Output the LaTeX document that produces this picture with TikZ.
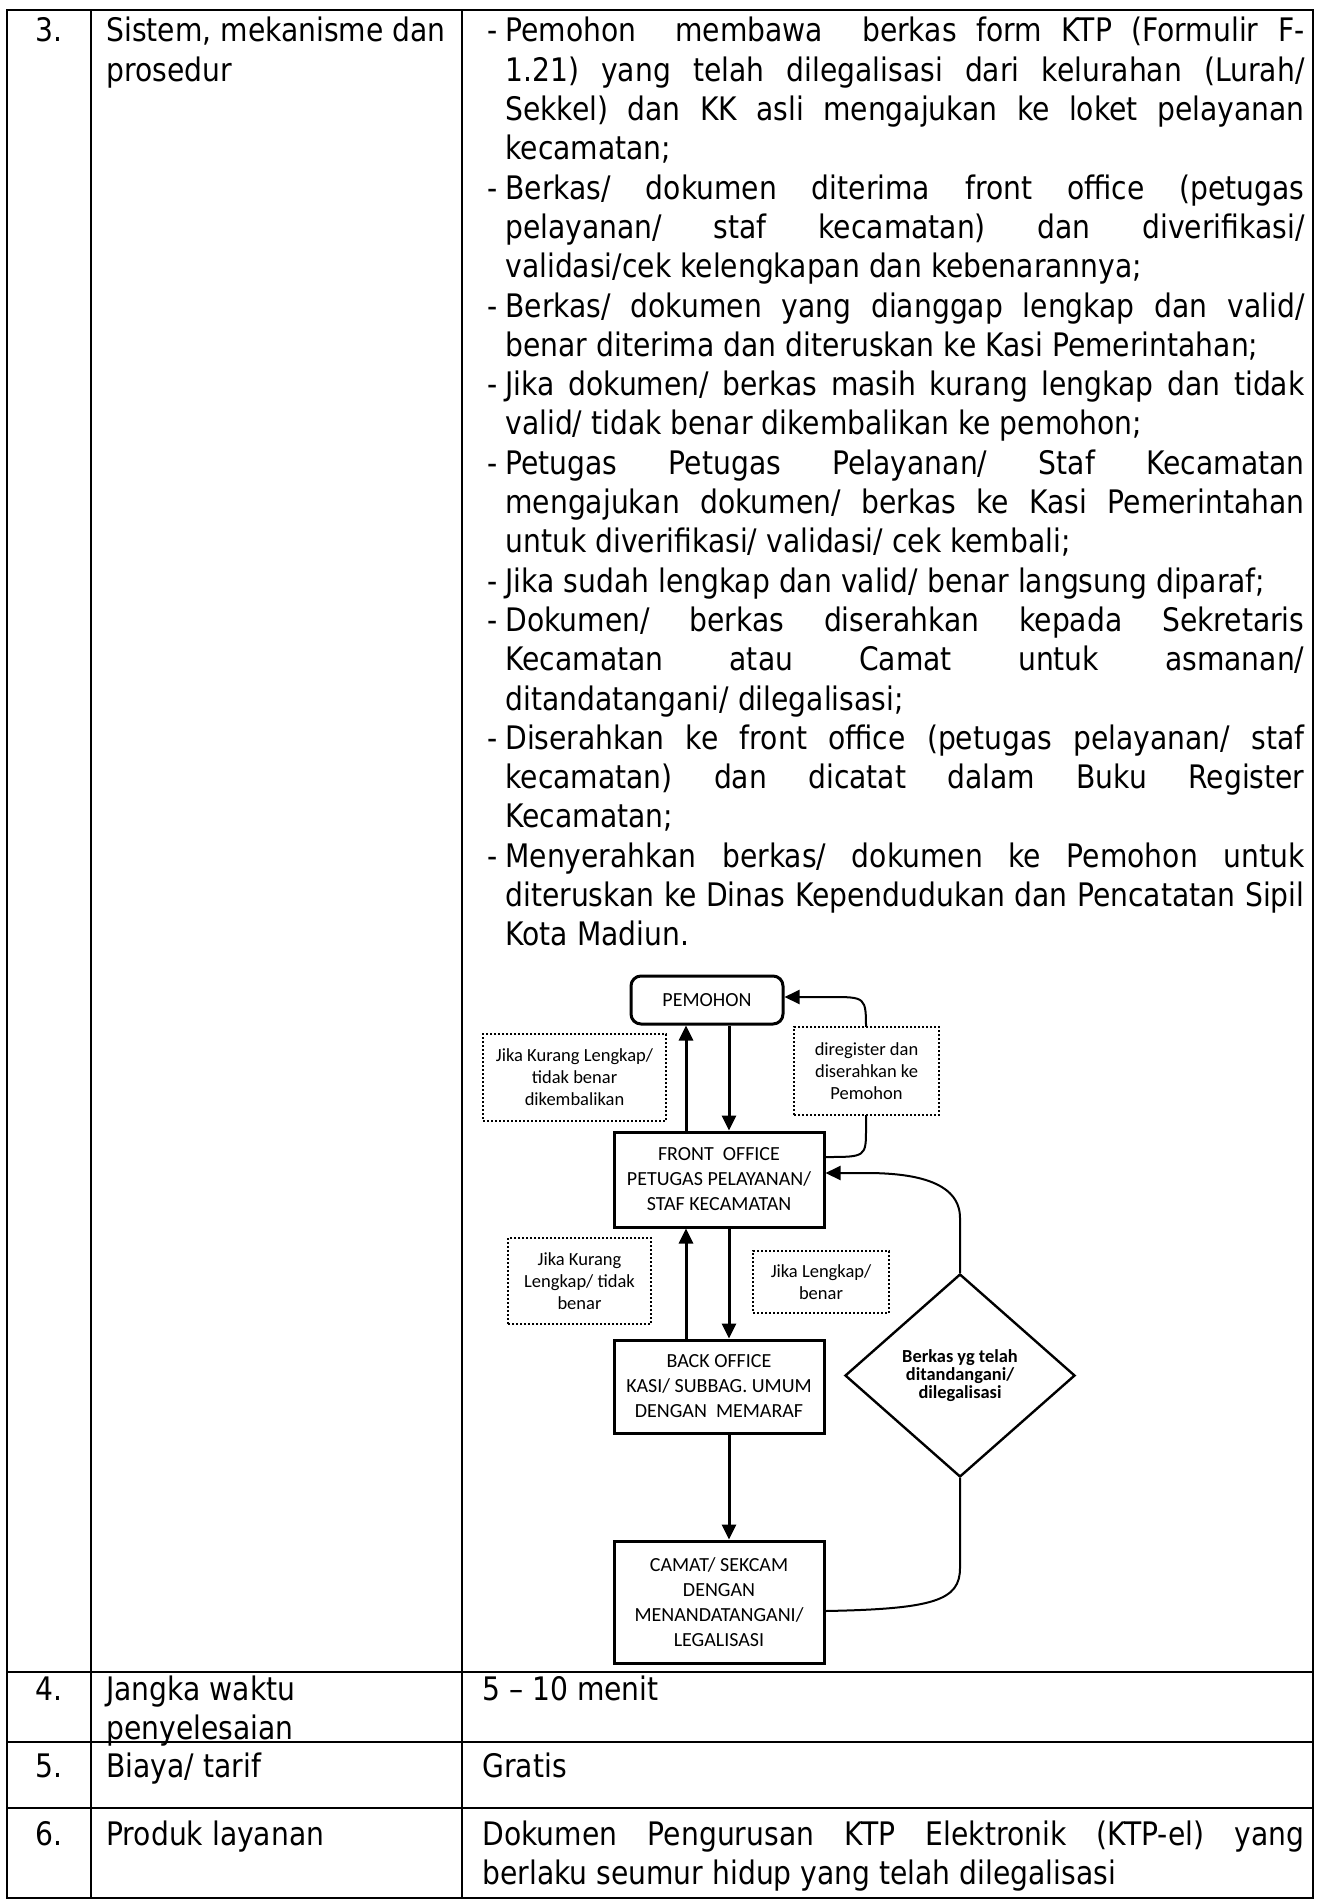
\documentclass[tikz,border=0pt]{standalone}
\usepackage{fontspec}
\setmainfont{DejaVu Sans}[FakeStretch=0.87]
\newfontfamily\chartfont{Carlito}
\usepackage{tikz}
\usetikzlibrary{arrows.meta,positioning,shapes.geometric,calc}

% one justified line of the cell text, and the hanging dash of an item
\newcommand{\jline}[1]{\makebox[\linewidth][s]{#1}}
\newcommand{\itemdash}{\leavevmode\llap{-\hspace{4pt}}}

\tikzset{
  grid/.style    ={line width=1pt},
  cell/.style    ={anchor=base west, inner sep=0pt,
                   font=\fontsize{16.2}{19.65}\selectfont},
  box/.style     ={rectangle, draw, line width=1.5pt, align=center, inner sep=2pt,
                   minimum width=105pt, font=\chartfont\fontsize{10}{12.5}\selectfont},
  startbox/.style={box, rounded corners=5pt, minimum width=76pt, minimum height=24pt},
  note/.style    ={rectangle, draw, line width=1pt, dash pattern=on 1pt off 1pt,
                   fill=white, align=center, inner sep=1pt,
                   font=\chartfont\fontsize{9.25}{11}\selectfont},
  check/.style   ={diamond, draw, line width=1.2pt, align=center, inner sep=0pt,
                   minimum width=115pt, minimum height=101.5pt,
                   font=\chartfont\bfseries\fontsize{9.2}{7.6}\selectfont},
  flow/.style    ={-{Triangle[length=7.5pt,width=7pt]}, line width=1.5pt},
  link/.style    ={line width=1pt},
}

\begin{document}
\begin{tikzpicture}[x=0.5pt, y=-0.5pt]
    \path[use as bounding box, fill=white] (0,0) rectangle (1320,1904);

    % table rules
    \def\colA{91}  \def\colB{462}
    \draw[grid] (7,10) rectangle (1313,1898);
    \foreach \x in {\colA,\colB} \draw[grid] (\x,10) -- (\x,1898);
    \foreach \y in {1672,1742,1808} \draw[grid] (7,\y) -- (1313,\y);

    % row 3
    \node[cell] (no3)  at (35,42)  {3.};
    \node[cell] (key3) at (106,42) {\parbox[t]{175pt}{Sistem, mekanisme dan\\prosedur}};
    \node[cell] (steps) at (505,42) {\parbox[t]{399.5pt}{%
      \jline{\itemdash Pemohon\ \ membawa\ \ berkas form KTP (Formulir F-}\\
      \jline{1.21) yang telah dilegalisasi dari kelurahan (Lurah/}\\
      \jline{Sekkel) dan KK asli mengajukan ke loket pelayanan}\\
      kecamatan;\\
      \jline{\itemdash Berkas/ dokumen diterima front office (petugas}\\
      \jline{pelayanan/ staf kecamatan) dan diverifikasi/}\\
      validasi/cek kelengkapan dan kebenarannya;\\
      \jline{\itemdash Berkas/ dokumen yang dianggap lengkap dan valid/}\\
      benar diterima dan diteruskan ke Kasi Pemerintahan;\\
      \jline{\itemdash Jika dokumen/ berkas masih kurang lengkap dan tidak}\\
      valid/ tidak benar dikembalikan ke pemohon;\\
      \jline{\itemdash Petugas Petugas Pelayanan/ Staf Kecamatan}\\
      \jline{mengajukan dokumen/ berkas ke Kasi Pemerintahan}\\
      untuk diverifikasi/ validasi/ cek kembali;\\
      \itemdash Jika sudah lengkap dan valid/ benar langsung diparaf;\\
      \jline{\itemdash Dokumen/ berkas diserahkan kepada Sekretaris}\\
      \jline{Kecamatan atau Camat untuk asmanan/}\\
      ditandatangani/ dilegalisasi;\\
      \jline{\itemdash Diserahkan ke front office (petugas pelayanan/ staf}\\
      \jline{kecamatan) dan dicatat dalam Buku Register}\\
      Kecamatan;\\
      \jline{\itemdash Menyerahkan berkas/ dokumen ke Pemohon untuk}\\
      \jline{diteruskan ke Dinas Kependudukan dan Pencatatan Sipil}\\
      Kota Madiun.}};

    % flow chart
    \node[startbox] (pem) at (707,1000) {PEMOHON};
    \node[box, minimum height=47.5pt] (front) at (719,1179.5)
        {FRONT\ \ OFFICE\\PETUGAS PELAYANAN/\\STAF KECAMATAN};
    \node[box, minimum height=46.5pt] (back) at (719,1386.5)
        {BACK OFFICE\\KASI/ SUBBAG. UMUM\\DENGAN\ \ MEMARAF};
    \node[box, minimum height=61pt] (camat) at (719,1602)
        {CAMAT/ SEKCAM\\DENGAN\\MENANDATANGANI/\\LEGALISASI};
    \node[check] (done) at (960,1375.5) {Berkas yg telah\\ditandangani/\\dilegalisasi};

    \draw[flow] ([xshift=-16.5pt]front.north) -- ([xshift=-16.5pt]front.north |- pem.south);
    \draw[flow] ([xshift=5pt]front.north |- pem.south) -- ([xshift=5pt]front.north);
    \draw[flow] ([xshift=-16.5pt]back.north) -- ([xshift=-16.5pt]front.south);
    \draw[flow] ([xshift=5pt]front.south) -- ([xshift=5pt]back.north);
    \draw[flow] ([xshift=5pt]back.south) -- ([xshift=5pt]camat.north);

    % curved returns
    \draw[flow, line width=1pt] ([yshift=11.25pt]front.east) .. controls (866,1157) .. (866,1128)
        -- (866,1030) .. controls (866,997) .. (830,997) -- ([yshift=1.5pt]pem.east);
    \draw[flow, line width=1pt] (done.north) -- (960,1218) .. controls (960,1180) and (910,1173) ..
        (866,1173) -- ([yshift=3.25pt]front.east);
    \draw[link] ([yshift=-4.5pt]camat.east) .. controls (935,1609) and (960,1600) ..
        (960,1568) -- (done.south);

    % notes
    \node[note, minimum width=91.5pt, minimum height=43.5pt] (back1) at (574.5,1077.5)
        {Jika Kurang Lengkap/\\tidak benar\\dikembalikan};
    \node[note, minimum width=72.5pt, minimum height=44pt] (reg) at (866.5,1071)
        {diregister dan\\diserahkan ke\\Pemohon};
    \node[note, minimum width=71.5pt, minimum height=43pt] (back2) at (579.5,1281)
        {Jika Kurang\\Lengkap/ tidak\\benar};
    \node[note, minimum width=68pt, minimum height=31pt] (ok) at (821,1282)
        {Jika Lengkap/\\benar};

    % rows 4 to 6
    \node[cell] (no4)  at (35,1700)  {4.};
    \node[cell] (key4) at (106,1700) {\parbox[t]{175pt}{Jangka waktu\\penyelesaian}};
    \node[cell] (val4) at (482,1700) {5 – 10 menit};
    \node[cell] (no5)  at (35,1777)  {5.};
    \node[cell] (key5) at (106,1777) {Biaya/ tarif};
    \node[cell] (val5) at (482,1777) {Gratis};
    \node[cell] (no6)  at (35,1845)  {6.};
    \node[cell] (key6) at (106,1845) {Produk layanan};
    \node[cell] (val6) at (482,1845) {\parbox[t]{411pt}{%
        \jline{Dokumen Pengurusan KTP Elektronik (KTP-el) yang}\\
        berlaku seumur hidup yang telah dilegalisasi}};
\end{tikzpicture}
\end{document}
